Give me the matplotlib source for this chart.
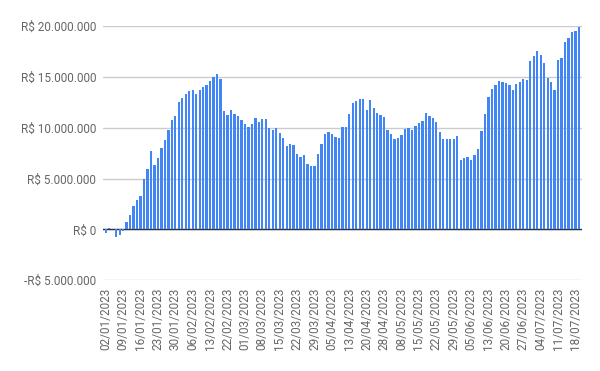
import matplotlib
matplotlib.use("Agg")
import matplotlib.pyplot as plt
from matplotlib.ticker import FuncFormatter, FixedLocator
import pandas as pd

# Brazilian trading days (B3) from 02/01/2023 to 19/07/2023
holidays = ["2023-02-20", "2023-02-21", "2023-04-07", "2023-04-21",
            "2023-05-01", "2023-06-08"]
dates = pd.bdate_range("2023-01-02", "2023-07-19", freq="C", holidays=holidays)
date_labels = [d.strftime("%d/%m/%Y") for d in dates]

# values in millions of R$
values_mi = [
    -0.33, 0.10, 0.02, -0.75, -0.56, -0.16, 0.74, 1.46, 2.35, 2.95,
    3.33, 4.93, 6.00, 7.77, 6.38, 7.07, 8.06, 8.85, 9.84, 10.80,
    11.13, 12.50, 12.90, 13.35, 13.60, 13.75, 13.37, 13.76, 14.05, 14.25,
    14.64, 15.03, 15.33, 14.84, 11.70, 11.31, 11.80, 11.41, 11.21, 10.82,
    10.42, 10.13, 10.42, 11.01, 10.62, 10.92, 10.92, 10.03, 9.84, 10.03,
    9.54, 9.05, 8.17, 8.37, 8.27, 7.48, 7.09, 7.29, 6.41, 6.21,
    6.21, 7.39, 8.46, 9.44, 9.64, 9.44, 9.15, 9.05, 10.13, 10.13,
    11.41, 12.48, 12.68, 12.88, 12.88, 11.80, 12.78, 11.99, 11.50, 11.31,
    11.11, 9.84, 9.44, 8.86, 9.05, 9.35, 9.93, 10.03, 9.84, 10.23,
    10.52, 10.72, 11.50, 11.21, 11.01, 10.62, 9.64, 8.86, 8.95, 8.86,
    8.95, 9.25, 6.80, 6.99, 7.09, 6.80, 7.29, 7.88, 9.74, 11.32,
    13.04, 13.83, 14.22, 14.61, 14.52, 14.42, 14.22, 13.73, 14.32, 14.52,
    14.81, 14.71, 16.58, 17.08, 17.57, 17.18, 16.39, 14.91, 14.52, 13.73,
    16.68, 16.88, 18.46, 18.85, 19.44, 19.54, 19.93,
]
values = [v * 1e6 for v in values_mi]

y_ticks = [-5e6, 0, 5e6, 10e6, 15e6, 20e6]

plt.rcParams['font.family'] = ['Roboto', 'DejaVu Sans']

fig = plt.figure(figsize=(6, 3.71), dpi=100)
ax = fig.add_axes([0.1717, 0.2445, 0.7978, 0.6846])

x = list(range(len(values)))
ax.bar(x, values, width=0.66, color="#4285F4", zorder=3)
ax.axhline(0, color="#333333", linewidth=1.0, zorder=2)

ax.set_ylim(-5e6, 20e6)
ax.set_xlim(-0.78, len(values) - 1 + 0.78)
ax.yaxis.set_major_locator(FixedLocator(y_ticks))

def fmt(v, pos):
    s = f"{abs(v):,.0f}".replace(",", ".")
    return ("-R$ " if v < 0 else "R$ ") + s

ax.yaxis.set_major_formatter(FuncFormatter(fmt))
ax.grid(axis="y", color="#cccccc", linewidth=1.0, zorder=1)
ax.set_axisbelow(True)

tick_idx = list(range(0, len(values), 5))
ax.set_xticks(tick_idx)
ax.set_xticklabels([date_labels[i] for i in tick_idx], rotation=90)

for s in ax.spines.values():
    s.set_visible(False)
ax.tick_params(axis="both", length=0, labelsize=8.5, labelcolor="#666666")
ax.tick_params(axis="y", pad=5)
ax.tick_params(axis="x", pad=5)

fig.savefig("out.png", dpi=100)
